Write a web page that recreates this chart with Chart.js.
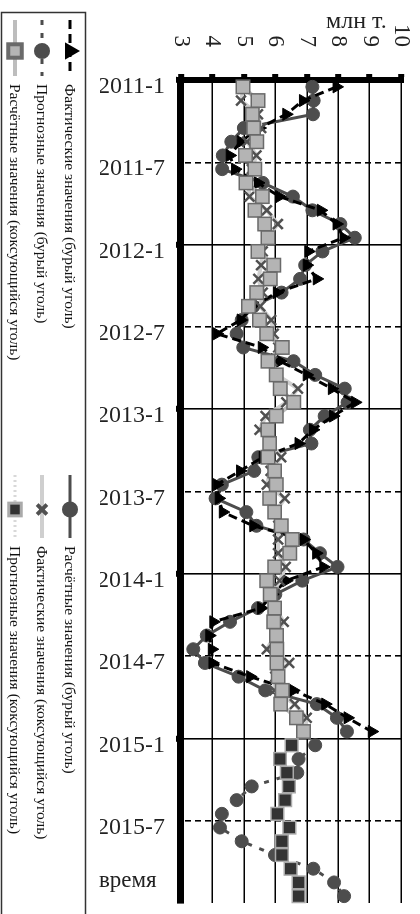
<!DOCTYPE html>
<html>
<head>
<meta charset="utf-8">
<script src="https://cdn.jsdelivr.net/npm/chart.js@4.4.1/dist/chart.umd.min.js"></script>
<style>
  html, body { margin: 0; padding: 0; background: #fff; overflow: hidden; }
  body { width: 420px; height: 914px; position: relative; }
  /* the chart is drawn lying on its side and then turned a quarter clockwise */
  #turn { position: absolute; left: 0; top: 0; width: 914px; height: 420px;
          transform-origin: 0 0; transform: translate(420px, 0) rotate(90deg); }
  .lbl { position: absolute; font-family: 'Liberation Serif', 'Times New Roman', serif;
         color: #222; white-space: nowrap; line-height: 1; }
</style>
</head>
<body>
<div id="turn"><canvas id="chart" width="914" height="420"></canvas></div>
<div class="lbl" style="left:326px; top:8px; font-size:24px;">млн т.</div>
<div class="lbl" style="left:99px; top:868px; font-size:23px;">время</div>
<script>
const years = [2011, 2012, 2013, 2014, 2015];
const monthLabels = [];
years.forEach(y => { for (let m = 1; m <= 12; m++) monthLabels.push(y + '-' + m); });
const tickStep = 6;
const valueMin = 3;
const valueMax = 10;

// бурый уголь, 2011-1 .. 2014-12
const brownActual = [7.95, 6.88, 6.35, 5.5, 4.9, 4.55, 4.72, 5.45, 6.13, 7.45, 7.95, 8.17,
  7.05, 7.0, 7.32, 6.05, 5.3, 4.9, 4.14, 5.57, 6.15, 7.0, 7.8, 8.54,
  7.84, 7.2, 6.74, 5.6, 4.88, 4.14, 4.2, 4.33, 5.3, 6.9, 7.3, 7.53,
  6.35, 5.9, 5.55, 4.03, 3.9, 3.98, 4.0, 5.2, 6.57, 7.59, 8.3, 9.07];
const brownCalc = [7.18, 7.22, 7.2, 5.0, 4.6, 4.33, 4.31, 5.6, 6.56, 7.18, 8.07, 8.53,
  7.5, 6.95, 6.79, 6.2, 5.3, 4.93, 4.77, 4.98, 6.58, 7.27, 8.21, 8.3,
  7.57, 7.1, 7.15, 5.46, 5.33, 4.3, 4.1, 5.08, 5.4, 6.9, 7.42, 7.98,
  6.86, 6.0, 5.45, 4.56, 3.82, 3.39, 3.76, 4.83, 5.68, 7.32, 7.96, 8.28];
// бурый уголь, прогноз 2015-1 .. 2015-12
const brownForecast = [7.27, 6.74, 6.7, 5.25, 4.77, 4.3, 4.24, 4.93, 5.99, 7.21, 7.87, 8.19];

// коксующийся уголь, 2011-1 .. 2014-12
const cokingCalc = [4.97, 5.45, 5.27, 5.31, 5.41, 5.05, 5.35, 5.07, 5.59, 5.35, 5.66, 5.77,
  5.45, 5.95, 5.84, 5.41, 5.15, 5.5, 5.73, 6.22, 5.77, 6.03, 6.16, 6.59,
  6.03, 5.77, 5.82, 5.77, 5.98, 6.03, 5.82, 5.98, 6.19, 6.54, 6.46, 5.98,
  5.73, 5.84, 5.98, 5.95, 6.04, 6.05, 6.05, 6.09, 6.22, 6.17, 6.67, 6.9];
const cokingActual = [5.0, 4.91, 5.45, 5.55, 5.1, 5.4, 5.25, 5.15, 5.18, 5.73, 6.08, 5.75,
  5.6, 5.55, 5.46, 5.6, 5.52, 5.87, 5.95, 6.1, 5.9, 6.05, 6.72, 6.35,
  5.69, 5.5, 5.85, 6.19, 5.85, 5.73, 6.3, 6.0, 6.1, 6.09, 6.09, 6.33,
  6.14, 5.9, 6.0, 6.27, 6.0, 5.73, 6.44, 6.0, 5.97, 6.62, 7.0, 6.95];
// коксующийся уголь, прогноз 2015-1 .. 2015-12
const cokingForecast = [6.52, 6.15, 6.37, 6.43, 6.31, 6.07, 6.45, 6.21, 6.21, 6.49, 6.74, 6.74];

const pad = (arr) => Array(monthLabels.length - arr.length).fill(null).concat(arr);

const FONT = "'Liberation Serif', 'Times New Roman', serif";
Chart.defaults.font.family = FONT;
Chart.defaults.color = '#111';

const datasets = [
  {
    label: 'Фактические значения (бурый уголь)', data: brownActual,
    borderColor: '#000', backgroundColor: '#000', borderWidth: 3, borderDash: [9, 5],
    pointStyle: 'triangle', pointRadius: 7, pointBorderWidth: 1, order: 3
  },
  {
    label: 'Прогнозные значения (бурый уголь)', data: pad(brownForecast),
    borderColor: '#4d4d4d', backgroundColor: '#4d4d4d', borderWidth: 3, borderDash: [5, 8],
    pointStyle: 'circle', pointRadius: 6.5, pointBorderWidth: 1, order: 5
  },
  {
    label: 'Расчётные значения (коксующийся уголь)', data: cokingCalc,
    borderColor: '#bdbdbd', backgroundColor: '#b4b4b4', borderWidth: 4,
    pointStyle: 'rect', pointRadius: 9.5, pointBorderWidth: 1.5, pointBorderColor: '#6a6a6a', order: 1
  },
  {
    label: 'Расчётные значения (бурый уголь)', data: brownCalc,
    borderColor: '#4d4d4d', backgroundColor: '#4d4d4d', borderWidth: 3,
    pointStyle: 'circle', pointRadius: 6.5, pointBorderWidth: 1, order: 4
  },
  {
    label: 'Фактические значения (коксующийся уголь)', data: cokingActual,
    borderColor: '#cfcfcf', backgroundColor: '#cfcfcf', borderWidth: 4,
    pointStyle: 'crossRot', pointRadius: 7, pointBorderWidth: 2.5, pointBorderColor: '#505050', order: 2
  },
  {
    label: 'Прогнозные значения (коксующийся уголь)', data: pad(cokingForecast),
    borderColor: '#d8d8d8', backgroundColor: '#333', borderWidth: 3, borderDash: [2, 3],
    pointStyle: 'rect', pointRadius: 9, pointBorderWidth: 1.5, pointBorderColor: '#aaa', order: 0
  }
];

// legend: two columns, three rows (in the unrotated frame)
const legendCols = [20, 475];
const legendRows = [350, 378, 405];
const legendSlots = [[0, 0], [0, 1], [0, 2], [1, 0], [1, 1], [1, 2]];

const boxLegend = {
  id: 'boxLegend',
  afterDraw(chart) {
    const ctx = chart.ctx;
    ctx.save();
    ctx.strokeStyle = '#333';
    ctx.lineWidth = 1.5;
    ctx.strokeRect(12.5, 334.5, 960, 84);
    chart.data.datasets.forEach((ds, i) => {
      const [c, r] = legendSlots[i];
      const x0 = legendCols[c], y = legendRows[r];
      const w = c === 0 ? 56 : 63;
      ctx.save();
      ctx.strokeStyle = ds.borderColor;
      ctx.lineWidth = ds.borderWidth;
      ctx.setLineDash(ds.borderDash || []);
      ctx.beginPath();
      ctx.moveTo(x0, y);
      ctx.lineTo(x0 + w, y);
      ctx.stroke();
      ctx.setLineDash([]);
      ctx.fillStyle = ds.backgroundColor;
      ctx.strokeStyle = ds.pointBorderColor || ds.borderColor;
      Chart.helpers.drawPoint(ctx, {
        pointStyle: ds.pointStyle, radius: ds.pointRadius, rotation: 0,
        borderWidth: ds.pointBorderWidth
      }, x0 + w / 2 + 3, y);
      ctx.fillStyle = '#111';
      ctx.font = '15.5px ' + FONT;
      ctx.textBaseline = 'middle';
      ctx.fillText(ds.label, x0 + w + 8, y + 1);
      ctx.restore();
    });
    ctx.restore();
  }
};

// keep the plot area exactly where the picture has it
const noPad = s => { s.paddingTop = 0; s.paddingBottom = 0; s.paddingLeft = 0; s.paddingRight = 0; };

new Chart(document.getElementById('chart'), {
  type: 'line',
  data: { labels: monthLabels, datasets: datasets },
  options: {
    responsive: false,
    devicePixelRatio: 1,
    animation: false,
    layout: { padding: { top: 19, right: 11, bottom: 100, left: 0 } },
    plugins: { legend: { display: false }, tooltip: { enabled: false } },
    elements: { line: { tension: 0 } },
    scales: {
      x: {
        type: 'category',
        offset: true,
        grid: {
          offset: true,
          color: c => (c.index % tickStep === 0 ? '#000' : 'rgba(0,0,0,0)'),
          lineWidth: 1.6,
          tickLength: 5,
          tickWidth: 6,
          tickColor: c => (c.index % 12 === 0 ? '#000' : 'rgba(0,0,0,0)')
        },
        border: {
          color: '#000', width: 7,
          dash: c => (c.index % 12 === 6 ? [6, 4] : [])
        },
        ticks: {
          autoSkip: false, minRotation: 90, maxRotation: 90, padding: 11,
          font: { size: 24 }, color: '#222',
          callback: (v, i) => (i % tickStep === 0 ? monthLabels[i] : '')
        },
        afterFit: s => { s.height = 81; noPad(s); }
      },
      y: {
        min: valueMin, max: valueMax,
        ticks: { stepSize: 1, autoSkip: false, padding: 27, font: { size: 23 }, color: '#222' },
        grid: { color: '#000', lineWidth: 1.6, tickLength: 6, tickWidth: 6, tickColor: '#000' },
        border: { color: '#000', width: 6 },
        afterFit: s => { s.width = 80; noPad(s); }
      }
    }
  },
  plugins: [boxLegend]
});
</script>
</body>
</html>
